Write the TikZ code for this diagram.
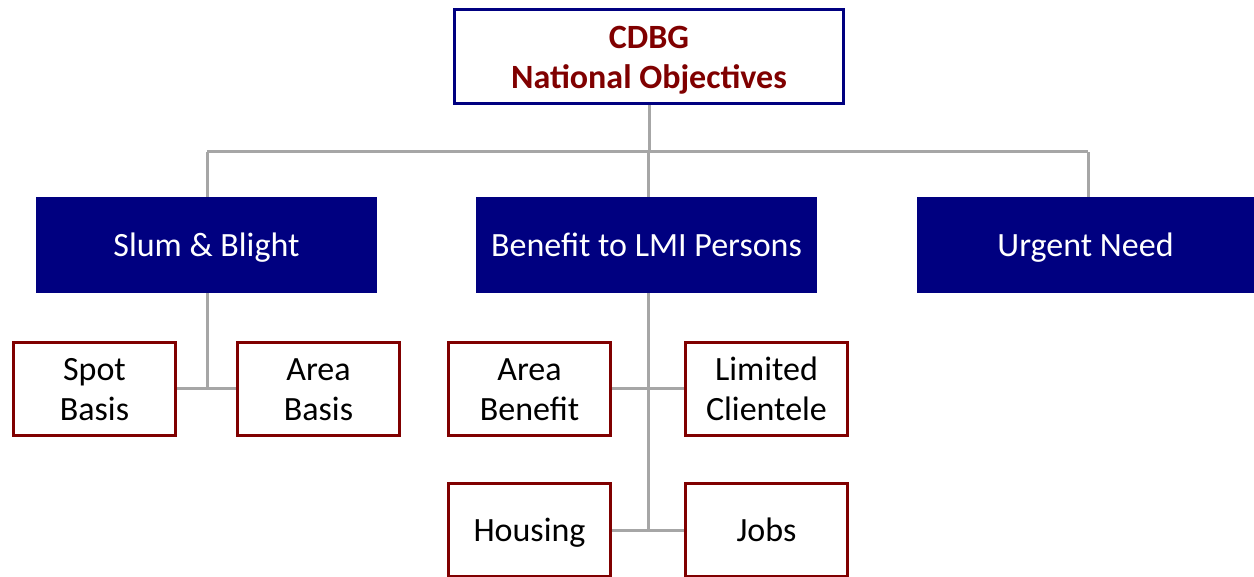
\documentclass[tikz,border=0pt]{standalone}
\usepackage{fontspec}
\setmainfont{Carlito}
\definecolor{navy}{HTML}{000080}
\definecolor{maroon}{HTML}{800000}
\definecolor{lgray}{HTML}{A6A6A6}
\begin{document}
\begin{tikzpicture}[x=1pt,y=-1pt,
  topbox/.style={draw=navy,line width=3pt,fill=white,minimum width=389pt,minimum height=94pt,inner sep=0pt,align=center,text=maroon,font=\fontsize{34}{40}\selectfont\bfseries,text height=67pt,text depth=2pt},
  midbox/.style={fill=navy,draw=none,minimum width=341pt,minimum height=96pt,inner sep=0pt,align=center,text=white,font=\fontsize{34}{40}\selectfont,text height=25pt,text depth=2pt},
  leafbox/.style={draw=maroon,line width=3pt,fill=white,minimum width=162pt,minimum height=93pt,inner sep=0pt,align=center,text=black,font=\fontsize{34}{40}\selectfont,text height=65pt,text depth=2pt},
  leafone/.style={leafbox,text height=25pt,text depth=2pt},
  conn/.style={draw=lgray,line width=3pt}]
\useasboundingbox (0,0) rectangle (1254,577);
\begin{scope}
\clip (0,0) rectangle (1254,577);
\node[topbox] (top) at (649,56.5) {CDBG\\National Objectives};
\node[midbox] (slum) at (206.5,245) {Slum \& Blight};
\node[midbox] (lmi) at (646.5,245) {Benefit to LMI Persons};
\node[midbox, minimum width=337pt] (urg) at (1085.5,245) {Urgent Need};
\node[leafbox] (spot) at (94.5,389) {Spot\\Basis};
\node[leafbox] (abasis) at (318.5,389) {Area\\Basis};
\node[leafbox] (aben) at (529.5,389) {Area\\Benefit};
\node[leafbox] (lim) at (766.5,389) {Limited\\Clientele};
\node[leafone] (hous) at (529.5,530) {Housing};
\node[leafone] (jobs) at (766.5,530) {Jobs};
% connectors
\coordinate (hbarL) at (207,152);
\coordinate (hbarR) at (1088,152);
\coordinate (sbj) at (207,389);
\coordinate (lj1) at (648,389);
\coordinate (lj2) at (648,530);
\draw[conn] (top.south) -- (top.south |- hbarL);
\draw[conn] (hbarL) -- (hbarR);
\draw[conn] (slum.north -| hbarL) -- (hbarL);
\draw[conn] (lmi.north -| lj1) -- (lj1 |- hbarL);
\draw[conn] (urg.north -| hbarR) -- (hbarR);
\draw[conn] (slum.south -| sbj) -- (sbj);
\draw[conn] (spot.east) -- (abasis.west);
\draw[conn] (lmi.south -| lj1) -- (lj2);
\draw[conn] (aben.east) -- (lim.west);
\draw[conn] (hous.east) -- (jobs.west);
\end{scope}
\end{tikzpicture}
\end{document}
